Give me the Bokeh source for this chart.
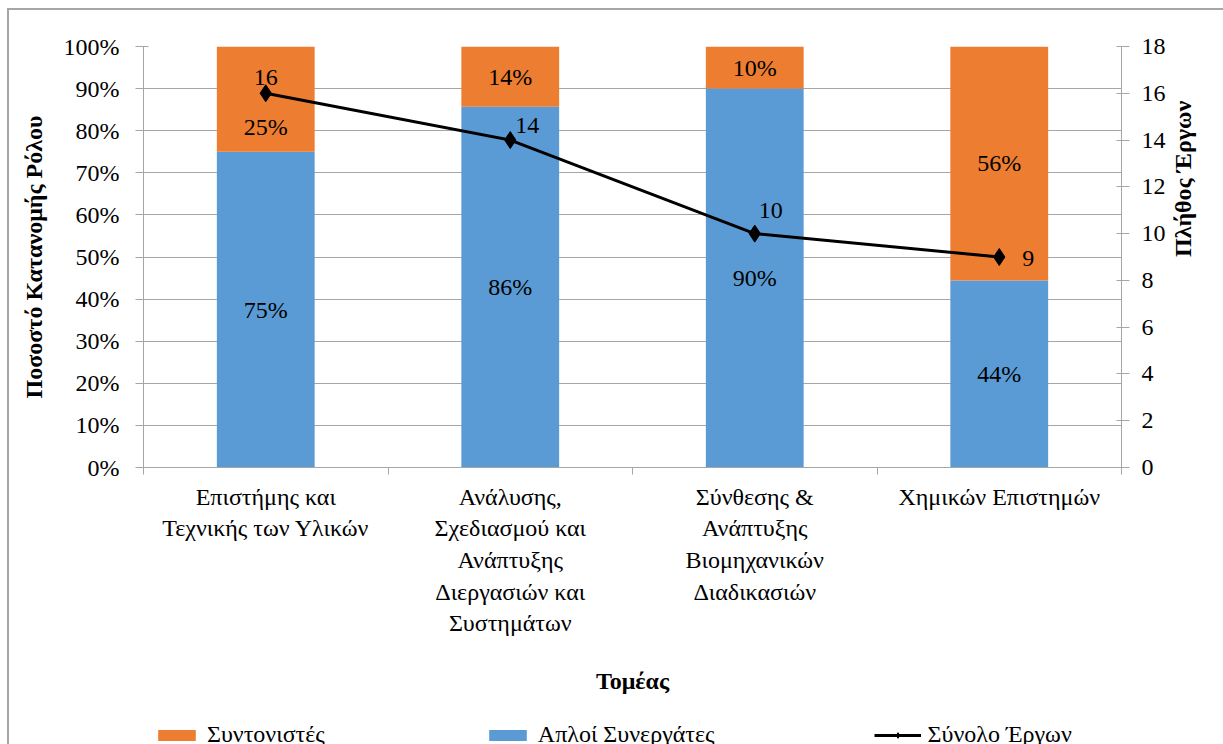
import math
from bokeh.plotting import figure
from bokeh.layouts import column
from bokeh.models import (Range1d, LinearAxis, FixedTicker, NumeralTickFormatter,
                          ColumnDataSource, Legend, LegendItem)
from bokeh.embed import file_html
from bokeh.resources import INLINE
from bokeh.core.properties import value

# ---- data ----
categories = ["Επιστήμης και\nΤεχνικής των Υλικών",
              "Ανάλυσης,\nΣχεδιασμού και\nΑνάπτυξης\nΔιεργασιών και\nΣυστημάτων",
              "Σύνθεσης &\nΑνάπτυξης\nΒιομηχανικών\nΔιαδικασιών",
              "Χημικών Επιστημών"]
total_projects = [16, 14, 10, 9]          # Σύνολο Έργων
coordinators = [4, 2, 1, 5]               # Συντονιστές (count)
pct_coord = [c / t for c, t in zip(coordinators, total_projects)]
pct_simple = [1 - p for p in pct_coord]   # Απλοί Συνεργάτες
pct_ticks = [i / 10 for i in range(11)]
count_ticks = list(range(0, 19, 2))

ORANGE = "#ED7D31"
BLUE = "#5B9BD5"
GRID = "#A6A6A6"
FONT = "Liberation Serif"
FS = "24px"

xs = [i + 0.5 for i in range(len(categories))]

p = figure(width=1223, height=715, output_backend="svg", toolbar_location=None,
           x_range=Range1d(0, len(categories)), y_range=Range1d(0, 1),
           min_border_left=143, min_border_right=102, min_border_top=46,
           min_border_bottom=248)
p.extra_y_ranges = {"n": Range1d(0, 18)}
p.outline_line_color = None
p.background_fill_color = "white"
p.border_fill_color = None
p.styles = {
    "background-color": "white",
    "background-image": f"linear-gradient({GRID},{GRID}), linear-gradient({GRID},{GRID})",
    "background-size": "2px 100%, 100% 2px",
    "background-position": "7px 8px, 7px 8px",
    "background-repeat": "no-repeat",
}

src = ColumnDataSource(dict(x=xs, simple=pct_simple, coord=pct_coord,
                            ones=[1] * len(xs), total=total_projects))

r_simple = p.vbar(x="x", top="simple", bottom=0, width=0.4, source=src,
                  fill_color=BLUE, line_color=None)
r_coord = p.vbar(x="x", top="ones", bottom="simple", width=0.4, source=src,
                 fill_color=ORANGE, line_color=None)
r_line = p.line(x="x", y="total", source=src, y_range_name="n",
                line_color="black", line_width=3)
r_pts = p.scatter(x="x", y="total", source=src, y_range_name="n",
                  marker="diamond", size=17, fill_color="black", line_color="black")

# ---- axes ----
p.xaxis.ticker = FixedTicker(ticks=xs, minor_ticks=list(range(len(categories) + 1)))
p.xaxis.major_label_overrides = {x: c for x, c in zip(xs, categories)}
p.xaxis.major_tick_out = 0
p.xaxis.major_tick_in = 0
p.xaxis.minor_tick_out = 7
p.xaxis.minor_tick_in = 0
p.xaxis.minor_tick_line_color = GRID
p.xaxis.axis_line_color = GRID
p.xaxis.major_label_standoff = 9
p.xaxis.major_label_text_font = FONT
p.xaxis.major_label_text_font_size = FS
p.xaxis.major_label_text_line_height = 1.22
p.xaxis.major_label_text_color = "black"
p.xaxis.axis_label = "Τομέας"
p.xaxis.axis_label_text_font = FONT
p.xaxis.axis_label_text_font_size = FS
p.xaxis.axis_label_text_font_style = "bold"
p.xaxis.axis_label_text_color = "black"
p.xaxis.axis_label_standoff = 29

p.yaxis.ticker = FixedTicker(ticks=pct_ticks)
p.yaxis.formatter = NumeralTickFormatter(format="0%")
yax = p.yaxis[0]
yax.axis_label = "Ποσοστό Κατανομής Ρόλου"

rax = LinearAxis(y_range_name="n", ticker=FixedTicker(ticks=count_ticks),
                 axis_label="Πλήθος Έργων")
rax.axis_label_orientation = math.pi / 2
p.add_layout(rax, "right")

for ax in (yax, rax):
    ax.axis_line_color = GRID
    ax.major_tick_line_color = GRID
    ax.minor_tick_line_color = None
    ax.major_tick_in = 5
    ax.major_tick_out = 8
    ax.major_label_text_font = FONT
    ax.major_label_text_font_size = FS
    ax.major_label_text_color = "black"
    ax.axis_label_text_font = FONT
    ax.axis_label_text_font_size = FS
    ax.axis_label_text_font_style = "bold"
    ax.axis_label_text_color = "black"
yax.major_label_standoff = 16
yax.axis_label_standoff = 14
rax.major_label_standoff = 12
rax.axis_label_standoff = 14

p.xgrid.grid_line_color = None
p.ygrid.ticker = FixedTicker(ticks=pct_ticks)
p.ygrid.grid_line_color = GRID
p.ygrid.grid_line_width = 1

# ---- data labels ----
lab_simple = ColumnDataSource(dict(
    x=xs, y=[s / 2 for s in pct_simple],
    t=[f"{round(s * 100)}%" for s in pct_simple]))
p.text(x="x", y="y", text="t", source=lab_simple, text_align="center",
       text_baseline="middle", text_font=value(FONT), text_font_size=FS,
       text_color="black")

coord_offsets = [28, 0, 0, 0]
lab_coord = ColumnDataSource(dict(
    x=xs, y=[s + c / 2 for s, c in zip(pct_simple, pct_coord)],
    t=[f"{round(c * 100)}%" for c in pct_coord], yo=coord_offsets))
p.text(x="x", y="y", text="t", source=lab_coord, y_offset="yo",
       text_align="center", text_baseline="middle", text_font=value(FONT),
       text_font_size=FS, text_color="black")

line_xo = [0, 17, 16, 29]
line_yo = [-16, -15, -23, 1]
lab_line = ColumnDataSource(dict(x=xs, y=total_projects,
                                 t=[str(v) for v in total_projects],
                                 xo=line_xo, yo=line_yo))
p.text(x="x", y="y", text="t", source=lab_line, y_range_name="n",
       x_offset="xo", y_offset="yo", text_align="center", text_baseline="middle",
       text_font=value(FONT), text_font_size=FS, text_color="black")

# ---- legend strip (separate figure below the chart) ----
leg = figure(width=1223, height=29, output_backend="svg", toolbar_location=None,
             x_range=Range1d(0, 1), y_range=Range1d(0, 1),
             min_border=0, x_axis_type=None, y_axis_type=None)
leg.outline_line_color = None
leg.background_fill_color = None
leg.border_fill_color = None
leg.grid.visible = False
leg.styles = {
    "background-color": "white",
    "background-image": f"linear-gradient({GRID},{GRID})",
    "background-size": "2px 100%",
    "background-position": "7px 0px",
    "background-repeat": "no-repeat",
}
nan = float("nan")
proxy = ColumnDataSource(dict(x=[nan], y=[nan], top=[nan]))
l_coord = leg.vbar(x="x", top="top", width=0.1, source=proxy,
                   fill_color=ORANGE, line_color=None)
l_simple = leg.vbar(x="x", top="top", width=0.1, source=proxy,
                    fill_color=BLUE, line_color=None)
l_line = leg.line(x="x", y="y", source=proxy, line_color="black", line_width=3)
l_pts = leg.scatter(x="x", y="y", source=proxy, marker="diamond", size=17,
                    fill_color="black", line_color="black")

legend = Legend(items=[LegendItem(label="Συντονιστές", renderers=[l_coord]),
                       LegendItem(label="Απλοί Συνεργάτες", renderers=[l_simple]),
                       LegendItem(label="Σύνολο Έργων", renderers=[l_line, l_pts])],
                orientation="horizontal", location=(10, -4),
                glyph_width=47, glyph_height=14, label_standoff=7, spacing=159,
                padding=0, margin=0, border_line_color=None,
                background_fill_alpha=0, label_text_font=FONT,
                label_text_font_size=FS, label_text_color="black")
leg.add_layout(legend, "center")

open("out.html", "w").write(file_html(column(p, leg, spacing=0), INLINE))
